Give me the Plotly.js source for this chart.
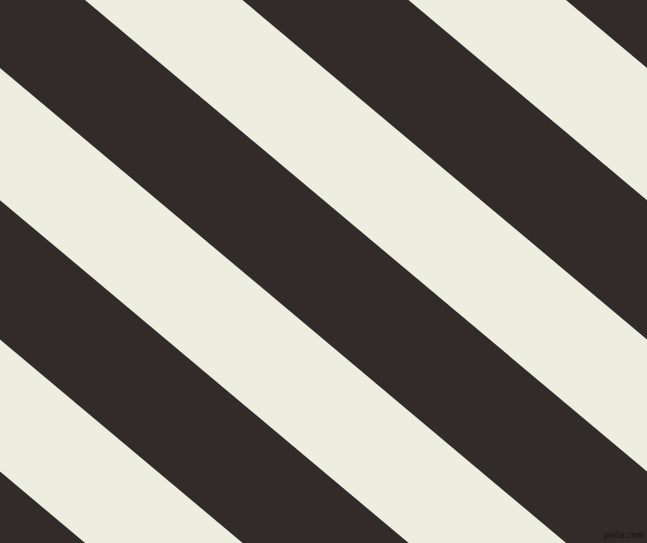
<!DOCTYPE html>
<html>
<head>
<meta charset="utf-8">
<script src="https://cdn.plot.ly/plotly-3.0.1.min.js"></script>
<style>
  html, body { margin:0; padding:0; background:#312b29; }
  #chart { width:647px; height:543px; }
</style>
</head>
<body>
<div id="chart"></div>
<script>
// ── stripe data: where each light band crosses the top edge (px) ──
const lightStart = [-562, -238.5, 85, 408.5];
const lightEnd   = [-404.5, -81, 242.5, 566];
const angleDeg   = 40;   // band tilt, down to the right

const W = 647, H = 543;
const DARK = '#312b29', LIGHT = '#edeee0';

const m = Math.tan(angleDeg * Math.PI / 180);
const yTop = -20, yBot = H + 20;
const atY = (x0, y) => x0 + y / m;

const traces = lightStart.map((x0, i) => {
  const x1 = lightEnd[i];
  return {
    type:'scatter', mode:'lines', fill:'toself',
    x:[atY(x0,yTop), atY(x1,yTop), atY(x1,yBot), atY(x0,yBot), atY(x0,yTop)],
    y:[yTop, yTop, yBot, yBot, yTop],
    fillcolor:LIGHT, line:{width:0, color:LIGHT},
    hoverinfo:'skip', showlegend:false
  };
});

Plotly.newPlot('chart', traces, {
  width:W, height:H,
  margin:{l:0, r:0, t:0, b:0},
  paper_bgcolor:DARK, plot_bgcolor:DARK,
  xaxis:{range:[0, W], visible:false, fixedrange:true},
  yaxis:{range:[H, 0], visible:false, fixedrange:true},
  annotations:[{
    x:624, y:535, xref:'x', yref:'y', showarrow:false,
    text:'pixlis.com',
    font:{family:'DejaVu Sans', size:8, color:'#161311'}
  }]
}, {displayModeBar:false, staticPlot:true});
</script>
</body>
</html>
